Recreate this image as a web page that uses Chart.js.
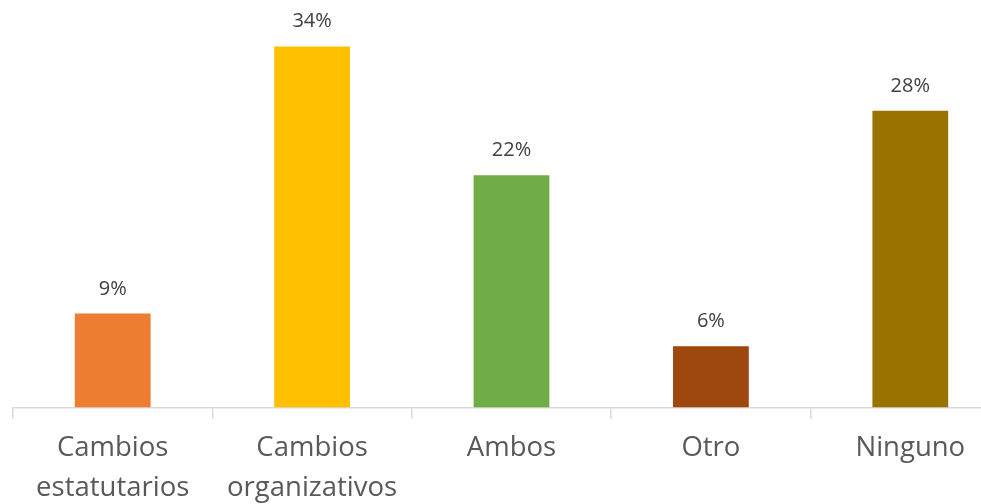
<!DOCTYPE html>
<html>
<head>
<meta charset="utf-8">
<script src="https://cdn.jsdelivr.net/npm/chart.js@4"></script>
<style>
  html,body{margin:0;padding:0;background:#fff;overflow:hidden;}
  #wrap{width:1010px;height:504px;}
</style>
</head>
<body>
<div id="wrap"><canvas id="chart" width="1010" height="504"></canvas></div>
<script>
const categories = [['Cambios','estatutarios'], ['Cambios','organizativos'], 'Ambos', 'Otro', 'Ninguno'];
const values = [8.9, 34.2, 22.0, 5.8, 28.1];
const colors = ['#ED7D31', '#FFC000', '#70AD47', '#9E480E', '#997300'];

// draws the % value above each bar
const valueLabels = {
  id: 'valueLabels',
  afterDatasetsDraw(chart) {
    const ctx = chart.ctx;
    const meta = chart.getDatasetMeta(0);
    ctx.save();
    ctx.font = '20px "Open Sans"';
    ctx.fillStyle = '#404040';
    ctx.textAlign = 'center';
    ctx.textBaseline = 'alphabetic';
    meta.data.forEach((bar, i) => {
      ctx.fillText(Math.round(values[i]) + '%', bar.x, bar.y - 19);
    });
    ctx.restore();
  }
};

new Chart(document.getElementById('chart'), {
  type: 'bar',
  data: {
    labels: categories,
    datasets: [{ data: values, backgroundColor: colors, barPercentage: 0.38, categoryPercentage: 1 }]
  },
  options: {
    responsive: false,
    animation: false,
    layout: { padding: { left: 13, right: 0, top: 0, bottom: 0 } },
    plugins: { legend: { display: false }, tooltip: { enabled: false } },
    scales: {
      x: {
        offset: true,
        border: { color: '#D9D9D9', width: 1.5 },
        grid: { offset: true, drawOnChartArea: false, drawTicks: true, tickLength: 11, color: '#D9D9D9', lineWidth: 1.5 },
        ticks: { color: '#595959', font: { family: '"Open Sans"', size: 27.5, lineHeight: 1.45 }, padding: 10, maxRotation: 0 },
        afterFit(s) { s.height = 96.5; }
      },
      y: { display: false, min: 0, max: 38.6 }
    }
  },
  plugins: [valueLabels]
});
</script>
</body>
</html>
